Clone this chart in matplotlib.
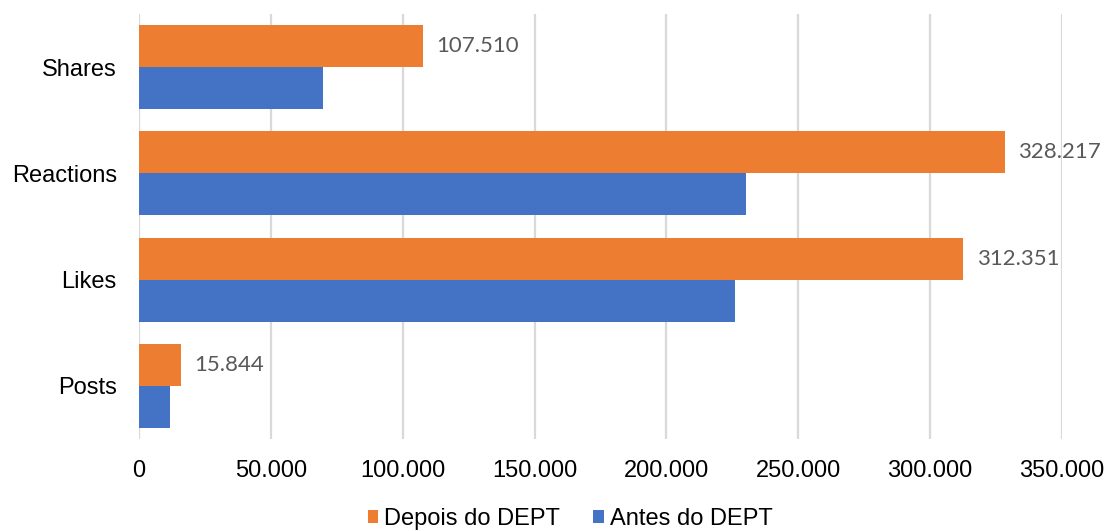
import matplotlib.pyplot as plt
import numpy as np
from matplotlib.ticker import FuncFormatter

categories = ["Posts", "Likes", "Reactions", "Shares"]
antes = [11800, 225900, 230300, 69600]
depois = [15844, 312351, 328217, 107510]
depois_labels = ["15.844", "312.351", "328.217", "107.510"]
xticks = [0, 50000, 100000, 150000, 200000, 250000, 300000, 350000]

orange = "#ED7D31"
blue = "#4472C4"
tick_font = ["Liberation Sans", "DejaVu Sans"]

fig = plt.figure(figsize=(11.05, 5.31), dpi=100)
ax = fig.add_axes([139/1105, 1-439/531, (1062-139)/1105, (439-14)/531])

y = np.arange(len(categories))
h = 0.395
b1 = ax.barh(y + h/2, depois, height=h, color=orange, label="Depois do DEPT", zorder=3)
b2 = ax.barh(y - h/2, antes, height=h, color=blue, label="Antes do DEPT", zorder=3)

# value labels only on the orange bars
for rect, lab in zip(b1, depois_labels):
    ax.annotate(lab, (rect.get_width(), rect.get_y() + rect.get_height()/2),
                xytext=(10, 0), textcoords="offset points", va="center", ha="left",
                fontsize=16, color="#595959", family=["Lato", "DejaVu Sans"])

ax.set_xlim(0, 350000)
ax.set_ylim(-0.5, 3.5)
ax.set_xticks(xticks)
ax.xaxis.set_major_formatter(FuncFormatter(lambda v, p: f"{int(v):,}".replace(",", ".")))
ax.set_yticks(y)
ax.set_yticklabels(categories)
ax.grid(axis="x", color="#d9d9d9", linewidth=1.6, zorder=0)
for s in ax.spines.values():
    s.set_visible(False)
ax.tick_params(axis="x", length=0, pad=15)
ax.tick_params(axis="y", length=0, pad=16)
for t in ax.get_xticklabels() + ax.get_yticklabels():
    t.set_family(tick_font)
    t.set_fontsize(17)
    t.set_color("black")

fig.legend(loc="center", bbox_to_anchor=(570/1105, 1-519/531), ncol=2, frameon=False,
           handlelength=0.45, handleheight=0.45, handletextpad=0.25, columnspacing=1.4,
           prop={"family": tick_font, "size": 17})

fig.savefig("out.png", dpi=100)
